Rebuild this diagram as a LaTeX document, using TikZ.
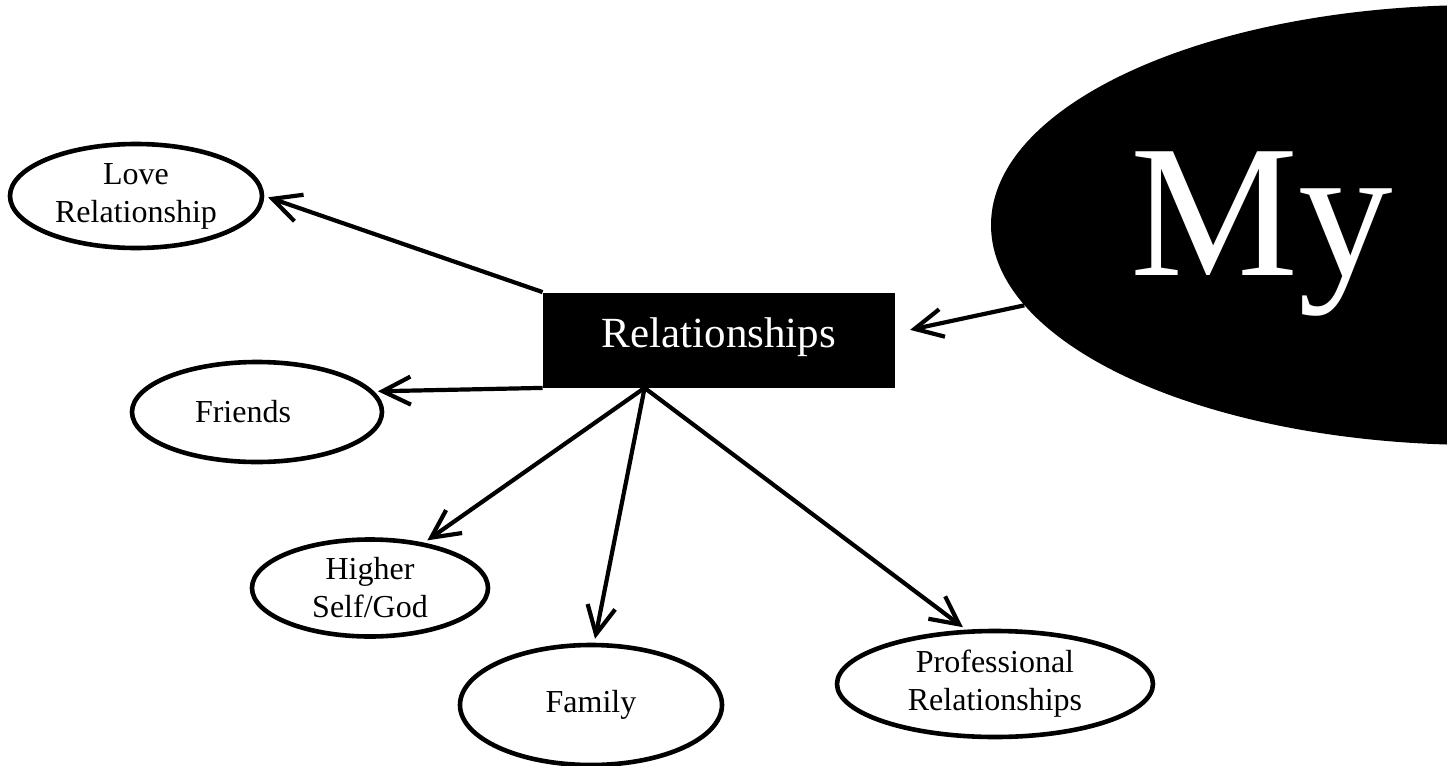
\documentclass[tikz,border=0pt]{standalone}
\usepackage{fontspec}
\setmainfont{Liberation Serif}
\usetikzlibrary{arrows.meta,shapes.geometric}
\begin{document}
\begin{tikzpicture}[x=0.5pt,y=-0.5pt,
		bubble/.style={draw,ellipse,line width=2.3pt,inner sep=0pt,align=center,font=\fontsize{16}{19}\selectfont},
		arr/.style={line width=2.1pt,shorten >=2pt,-{Straight Barb[length=14pt,width=14pt,line width=2.1pt]}}]
			\useasboundingbox (0,0) rectangle (1447,766);
			\clip (0,0) rectangle (1447,766);
			\node[fill,ellipse,minimum width=489pt,minimum height=220pt] (my) at (1480,225) {};
			\node[text=white,anchor=base,inner sep=0pt,font=\fontsize{94.5}{100}\selectfont] (mytext) at (1262,275) {My};
			\node[fill,minimum width=176pt,minimum height=47.5pt,text=white,font=\fontsize{21.5}{24}\selectfont] (rel) at (719,340) {\raisebox{7pt}{Relationships}};
			\node[bubble,minimum width=126pt,minimum height=52pt] (love)    at (136,196) {Love\\Relationship};
			\node[bubble,minimum width=125pt,minimum height=50pt] (friends) at (257,412) {Friends\hspace*{14pt}};
			\node[bubble,minimum width=118pt,minimum height=48.5pt] (higher) at (370,588) {Higher\\Self/God};
			\node[bubble,minimum width=131pt,minimum height=60pt] (family)  at (591,705) {Family};
			\node[bubble,minimum width=158pt,minimum height=53pt] (prof)    at (995,684) {Professional\\Relationships};
			\coordinate (hub) at ([xshift=51pt]rel.south west);
			
			\def\fromrel {rel.north west/love.east, rel.south west/friends.10, hub/higher.40, hub/family.87, hub/prof.118}  % out of the box
			\foreach \u/\v in \fromrel
			{	\draw[arr] (\u) -- (\v);
			}
			\draw[arr,shorten >=7.5pt] (my.190) -- ([yshift=3.5pt]rel.east);
		\end{tikzpicture}
\end{document}
